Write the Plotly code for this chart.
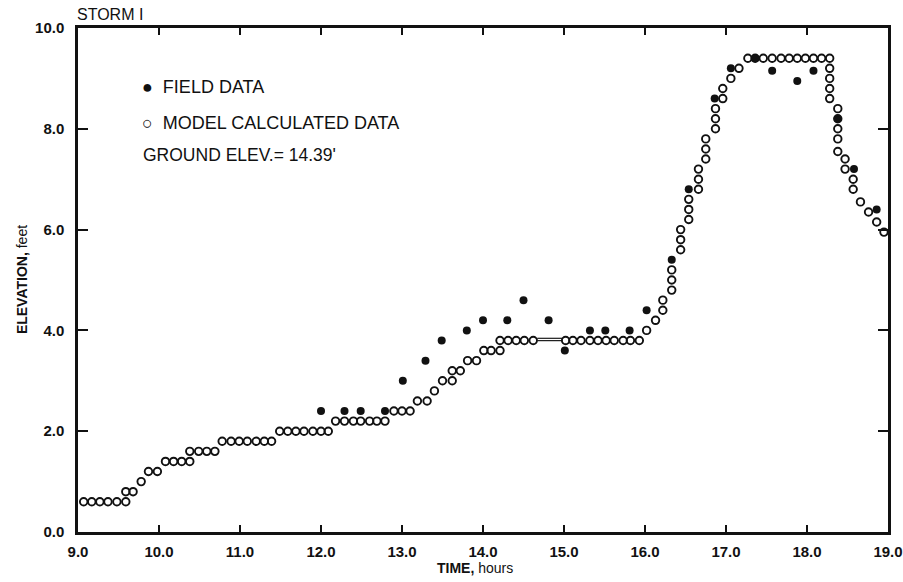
import plotly.graph_objects as go

# Model calculated data (open circles)
model_t = [9.07, 9.17, 9.27, 9.37, 9.48, 9.59,
           9.59, 9.68, 9.78, 9.87, 9.98,
           10.08, 10.18, 10.28, 10.38,
           10.38, 10.49, 10.59, 10.69,
           10.78, 10.89, 10.99, 11.09, 11.20, 11.30, 11.39,
           11.49, 11.59, 11.69, 11.79, 11.90, 12.00, 12.09,
           12.18, 12.29, 12.40, 12.49, 12.60, 12.69, 12.79,
           12.90, 13.00, 13.10,
           13.19, 13.31, 13.40, 13.50, 13.62, 13.62, 13.72,
           13.81, 13.92, 14.01, 14.10, 14.21,
           14.21, 14.31, 14.41, 14.51, 14.62,
           15.02, 15.11, 15.21, 15.32, 15.42, 15.52, 15.62, 15.73, 15.82, 15.93,
           16.02, 16.13, 16.22, 16.22, 16.33, 16.33, 16.33,
           16.44, 16.44, 16.44, 16.54, 16.54, 16.54,
           16.66, 16.66, 16.66, 16.75, 16.75, 16.75,
           16.87, 16.87, 16.87, 16.96, 16.96, 17.06, 17.16,
           17.27, 17.36, 17.46, 17.57, 17.68, 17.78, 17.88, 17.98, 18.08, 18.18, 18.28,
           18.28, 18.28, 18.28, 18.28,
           18.38, 18.38, 18.38, 18.38, 18.38,
           18.47, 18.47, 18.57, 18.57,
           18.66, 18.76, 18.86, 18.95]
model_v = [0.6, 0.6, 0.6, 0.6, 0.6, 0.6,
           0.8, 0.8, 1.0, 1.2, 1.2,
           1.4, 1.4, 1.4, 1.4,
           1.6, 1.6, 1.6, 1.6,
           1.8, 1.8, 1.8, 1.8, 1.8, 1.8, 1.8,
           2.0, 2.0, 2.0, 2.0, 2.0, 2.0, 2.0,
           2.2, 2.2, 2.2, 2.2, 2.2, 2.2, 2.2,
           2.4, 2.4, 2.4,
           2.6, 2.6, 2.8, 3.0, 3.0, 3.2, 3.2,
           3.4, 3.4, 3.6, 3.6, 3.6,
           3.8, 3.8, 3.8, 3.8, 3.8,
           3.8, 3.8, 3.8, 3.8, 3.8, 3.8, 3.8, 3.8, 3.8, 3.8,
           4.0, 4.2, 4.4, 4.6, 4.8, 5.0, 5.2,
           5.6, 5.8, 6.0, 6.2, 6.4, 6.6,
           6.8, 7.0, 7.2, 7.4, 7.6, 7.8,
           8.0, 8.2, 8.4, 8.6, 8.8, 9.0, 9.2,
           9.4, 9.4, 9.4, 9.4, 9.4, 9.4, 9.4, 9.4, 9.4, 9.4, 9.4,
           9.2, 9.0, 8.8, 8.6,
           8.4, 8.2, 8.0, 7.8, 7.55,
           7.4, 7.2, 7.0, 6.8,
           6.55, 6.35, 6.15, 5.95]

# Compressed run of model points drawn as a chain between 14.7 and 15.0 h
gap_t = [14.67, 14.98]
gap_v = [3.82, 3.82]

# Field data (filled dots)
field_t = [12.00, 12.29, 12.49, 12.79, 13.01, 13.29, 13.49, 13.80, 14.00, 14.30,
           14.50, 14.81, 15.01, 15.32, 15.51, 15.81, 16.02, 16.33, 16.54, 16.86,
           17.06, 17.36, 17.57, 17.88, 18.08, 18.38, 18.58, 18.86]
field_v = [2.4, 2.4, 2.4, 2.4, 3.0, 3.4, 3.8, 4.0, 4.2, 4.2,
           4.6, 4.2, 3.6, 4.0, 4.0, 4.0, 4.4, 5.4, 6.8, 8.6,
           9.2, 9.4, 9.15, 8.95, 9.15, 8.2, 7.2, 6.4]

x_ticks = [9, 10, 11, 12, 13, 14, 15, 16, 17, 18, 19]
x_labels = ["9.0", "10.0", "11.0", "12.0", "13.0", "14.0", "15.0", "16.0", "17.0", "18.0", "19.0"]
y_ticks = [0, 2, 4, 6, 8, 10]
y_labels = ["0.0", "2.0", "4.0", "6.0", "8.0", "10.0"]

FONT = "Liberation Sans"
INK = "#111111"

fig = go.Figure()
fig.add_trace(go.Scatter(x=gap_t, y=gap_v, mode="lines",
                         line=dict(color=INK, width=3.5), showlegend=False, hoverinfo="skip"))
fig.add_trace(go.Scatter(x=gap_t, y=gap_v, mode="lines",
                         line=dict(color="white", width=1.2), showlegend=False, hoverinfo="skip"))
fig.add_trace(go.Scatter(x=model_t, y=model_v, mode="markers", name="MODEL CALCULATED DATA",
                         marker=dict(symbol="circle-open", size=7.5, color=INK, line=dict(width=1.9)),
                         showlegend=False))
fig.add_trace(go.Scatter(x=field_t, y=field_v, mode="markers", name="FIELD DATA",
                         marker=dict(symbol="circle", size=8, color=INK),
                         showlegend=False))

tickfont = dict(family=FONT, size=15, color=INK)

fig.update_layout(
    width=903, height=582,
    margin=dict(l=78, r=15, t=28, b=50, autoexpand=False),
    paper_bgcolor="white", plot_bgcolor="white",
    font=dict(family=FONT, size=14, color=INK),
    xaxis=dict(range=[9, 19], tickvals=x_ticks, ticktext=["<b>%s</b>" % s for s in x_labels],
               showgrid=False, zeroline=False, showline=True, linecolor=INK, linewidth=2.5,
               mirror="ticks", ticks="inside", ticklen=7, tickwidth=1.5, tickcolor=INK,
               ticklabelstandoff=4, tickfont=tickfont, automargin=False),
    yaxis=dict(range=[0, 10], tickvals=y_ticks, ticktext=["<b>%s</b>" % s for s in y_labels],
               showgrid=False, zeroline=False, showline=True, linecolor=INK, linewidth=2.5,
               mirror="ticks", ticks="inside", ticklen=10, tickwidth=1.5, tickcolor=INK,
               ticklabelstandoff=8, tickfont=tickfont, automargin=False),
    annotations=[
        dict(text="<b>TIME,</b> hours", x=0.49, y=-0.072, xref="paper", yref="paper",
             xanchor="center", yanchor="middle", showarrow=False,
             font=dict(size=14, family=FONT, color=INK)),
        dict(text="<b>ELEVATION,</b> feet", x=-0.069, y=0.5, xref="paper", yref="paper",
             xanchor="center", yanchor="middle", textangle=-90, showarrow=False,
             font=dict(size=14, family=FONT, color=INK)),
        dict(text="STORM I", x=-0.004, y=1.006, xref="paper", yref="paper",
             xanchor="left", yanchor="bottom", showarrow=False, font=dict(size=16)),
        dict(text="●  FIELD DATA", x=0.077, y=0.883, xref="paper", yref="paper",
             xanchor="left", yanchor="middle", showarrow=False, font=dict(size=18)),
        dict(text="○  MODEL CALCULATED DATA", x=0.077, y=0.811, xref="paper", yref="paper",
             xanchor="left", yanchor="middle", showarrow=False, font=dict(size=18)),
        dict(text="GROUND ELEV.= 14.39'", x=0.078, y=0.748, xref="paper", yref="paper",
             xanchor="left", yanchor="middle", showarrow=False, font=dict(size=17.5)),
    ],
)

fig.write_html("out.html", config={"displayModeBar": False},
               post_script="document.body.style.margin='0';document.body.style.overflow='hidden';")
